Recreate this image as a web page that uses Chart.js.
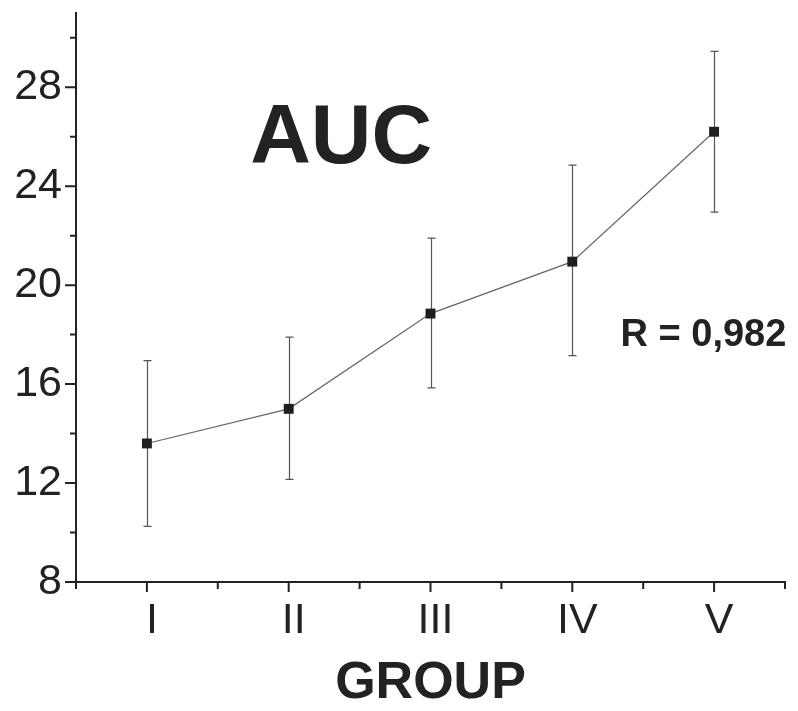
<!DOCTYPE html>
<html>
<head>
<meta charset="utf-8">
<script src="https://cdn.jsdelivr.net/npm/chart.js@4.4.1/dist/chart.umd.min.js"></script>
<style>
  html, body { margin: 0; padding: 0; background: #fff; }
  canvas { display: block; }
</style>
</head>
<body>
<canvas id="auc" width="798" height="711"></canvas>
<script>
// data
const groups = ['I', 'II', 'III', 'IV', 'V'];
const groupPos = [1, 2, 3, 4, 5];
const aucMean = [13.6, 15.0, 18.85, 20.95, 26.2];
const aucLow = [10.25, 12.15, 15.85, 17.15, 22.95];
const aucHigh = [16.95, 17.9, 21.9, 24.85, 29.45];

const yTicks = [8, 10, 12, 14, 16, 18, 20, 22, 24, 26, 28, 30];
const yLabels = [8, 12, 16, 20, 24, 28];
const xMinor = [0.5, 1.5, 2.5, 3.5, 4.5, 5.5];

const FONT = "'Liberation Sans', Arial, Helvetica, sans-serif";
const INK = '#222';

// error bars under the points, ticks and text labels on top
const decor = {
    id: 'decor',
    beforeDatasetsDraw(chart) {
        const { ctx, scales: { x, y } } = chart;
        ctx.save();
        ctx.strokeStyle = '#555';
        ctx.lineWidth = 1.2;
        groupPos.forEach((g, i) => {
            const px = Math.round(x.getPixelForValue(g)) + 0.5;
            const top = y.getPixelForValue(aucHigh[i]);
            const bot = y.getPixelForValue(aucLow[i]);
            ctx.beginPath();
            ctx.moveTo(px, top); ctx.lineTo(px, bot);
            ctx.moveTo(px - 4, top); ctx.lineTo(px + 4, top);
            ctx.moveTo(px - 4, bot); ctx.lineTo(px + 4, bot);
            ctx.stroke();
        });
        ctx.restore();
    },
    afterDraw(chart) {
        const { ctx, scales: { x, y }, chartArea } = chart;
        ctx.save();
        ctx.strokeStyle = INK;
        ctx.lineWidth = 2;
        ctx.beginPath();
        yTicks.forEach(v => {
            const py = y.getPixelForValue(v);
            const len = yLabels.includes(v) ? 11 : 6;
            ctx.moveTo(chartArea.left, py); ctx.lineTo(chartArea.left - len, py);
        });
        groupPos.forEach(v => {
            const px = x.getPixelForValue(v);
            ctx.moveTo(px, chartArea.bottom); ctx.lineTo(px, chartArea.bottom + 10);
        });
        xMinor.forEach(v => {
            const px = x.getPixelForValue(v);
            ctx.moveTo(px, chartArea.bottom); ctx.lineTo(px, chartArea.bottom + 7);
        });
        ctx.stroke();

        ctx.fillStyle = INK;
        ctx.textBaseline = 'alphabetic';
        ctx.font = `bold 84px ${FONT}`;
        ctx.textAlign = 'center';
        ctx.fillText('AUC', x.getPixelForValue(2.37), y.getPixelForValue(24.95));
        ctx.font = `bold 38px ${FONT}`;
        ctx.textAlign = 'left';
        ctx.fillText('R = 0,982', x.getPixelForValue(4.34), y.getPixelForValue(17.55));
        ctx.restore();
    }
};

new Chart(document.getElementById('auc'), {
    type: 'line',
    data: {
        datasets: [{
            data: groupPos.map((g, i) => ({ x: g, y: aucMean[i] })),
            borderColor: '#666',
            borderWidth: 1.2,
            pointStyle: 'rect',
            pointRadius: 7,
            pointBackgroundColor: '#1e1e1e',
            pointBorderColor: '#1e1e1e',
            pointBorderWidth: 0,
            tension: 0
        }]
    },
    options: {
        responsive: false,
        animation: false,
        layout: { padding: { top: 13, right: 13, left: 0, bottom: 0 } },
        plugins: { legend: { display: false }, tooltip: { enabled: false } },
        scales: {
            x: {
                type: 'linear',
                min: 0.5,
                max: 5.5,
                afterBuildTicks: s => { s.ticks = groupPos.map(v => ({ value: v })); },
                afterFit: s => { s.height = 129; s.paddingLeft = 0; s.paddingRight = 0; },
                grid: { display: false, drawTicks: false },
                border: { display: true, color: INK, width: 2 },
                ticks: {
                    color: INK,
                    padding: 13,
                    labelOffset: 5,
                    maxRotation: 0,
                    font: { family: FONT, size: 43 },
                    callback: v => groups[groupPos.indexOf(v)] ?? ''
                },
                title: {
                    display: true,
                    text: 'GROUP',
                    color: INK,
                    font: { family: FONT, size: 52, weight: 'bold' },
                    padding: { top: 0, bottom: -4 }
                }
            },
            y: {
                min: 8,
                max: 31,
                afterBuildTicks: s => { s.ticks = yTicks.map(v => ({ value: v })); },
                afterFit: s => { s.width = 76; s.paddingTop = 0; s.paddingBottom = 0; },
                grid: { display: false, drawTicks: false },
                border: { display: true, color: INK, width: 2 },
                ticks: {
                    color: INK,
                    padding: 14,
                    font: { family: FONT, size: 43 },
                    callback: v => yLabels.includes(v) ? String(v) : ''
                }
            }
        }
    },
    plugins: [decor]
});
</script>
</body>
</html>
